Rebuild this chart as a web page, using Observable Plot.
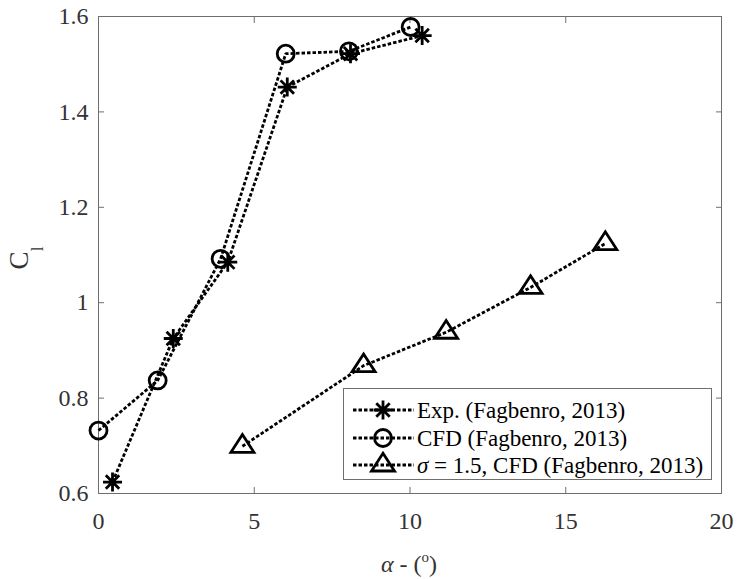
<!DOCTYPE html>
<html><head><meta charset="utf-8">
<script src="https://cdn.jsdelivr.net/npm/d3@7"></script>
<script src="https://cdn.jsdelivr.net/npm/@observablehq/plot@0.6"></script>
<style>body{margin:0;background:#fff}#chart{width:737px;height:579px}</style>
</head><body><div id="chart"></div>
<script>
// ---- data ----
const expAlpha = [0.45, 2.4, 4.15, 6.06, 8.09, 10.39];
const expCl    = [0.624, 0.925, 1.085, 1.452, 1.522, 1.560];
const cfdAlpha = [0, 1.9, 3.92, 6.01, 8.04, 10.02];
const cfdCl    = [0.732, 0.837, 1.092, 1.522, 1.527, 1.578];
const sigAlpha = [4.62, 8.51, 11.16, 13.87, 16.27];
const sigCl    = [0.699, 0.868, 0.938, 1.032, 1.124];
const xTicks = [0, 5, 10, 15, 20];
const yTicks = [0.6, 0.8, 1, 1.2, 1.4, 1.6];
const yTickLabels = ["0.6", "0.8", "1", "1.2", "1.4", "1.6"];
const seriesNames = ["Exp. (Fagbenro, 2013)", "CFD (Fagbenro, 2013)", "σ = 1.5, CFD (Fagbenro, 2013)"];

const exp = expAlpha.map((a, i) => ({alpha: a, cl: expCl[i]}));
const cfd = cfdAlpha.map((a, i) => ({alpha: a, cl: cfdCl[i]}));
const sig = sigAlpha.map((a, i) => ({alpha: a, cl: sigCl[i]}));

// ---- custom MATLAB-like marker symbols ----
const asterisk = {draw(ctx, size) {
  const r = Math.sqrt(size / Math.PI);
  for (let k = 0; k < 4; k++) {
    const a = k * Math.PI / 4, c = Math.cos(a) * r, s = Math.sin(a) * r;
    ctx.moveTo(c, s); ctx.lineTo(-c, -s);
  }
}};
const triangle = {draw(ctx, size) {
  const r = Math.sqrt(size / Math.PI);
  ctx.moveTo(0, -1.17 * r);
  ctx.lineTo(1.15 * r, 0.6 * r);
  ctx.lineTo(-1.15 * r, 0.6 * r);
  ctx.closePath();
}};
const circle = d3.symbolCircle;
const symbols = [asterisk, circle, triangle];
const radii = [9.5, 8.5, 10];

const font = "Liberation Serif, Times New Roman, Times, DejaVu Serif, serif";
const lineStyle = {stroke: "#000", strokeWidth: 2.8, strokeDasharray: "3.5,2", strokeLinecap: "butt", strokeLinejoin: "miter"};
const dotStyle = {stroke: "#000", strokeWidth: 2.8, fill: "none"};

const chart = Plot.plot({
  width: 737, height: 579,
  marginLeft: 98, marginRight: 16, marginTop: 16, marginBottom: 86,
  style: {fontFamily: font, fontSize: "24px", background: "#fff", color: "#333", overflow: "visible"},
  x: {domain: [0, 20]},
  y: {domain: [0.6, 1.6]},
  marks: [
    Plot.frame({stroke: "#6e6e6e"}),
    // inward ticks on all four sides
    Plot.axisX(xTicks, {anchor: "bottom", tickSize: -6, tickFormat: () => "", stroke: "#6e6e6e", label: null}),
    Plot.axisX(xTicks, {anchor: "top", tickSize: -6, tickFormat: () => "", stroke: "#6e6e6e", label: null}),
    Plot.axisY(yTicks, {anchor: "left", tickSize: -6, tickFormat: () => "", stroke: "#6e6e6e", label: null}),
    Plot.axisY(yTicks, {anchor: "right", tickSize: -6, tickFormat: () => "", stroke: "#6e6e6e", label: null}),
    // tick labels
    Plot.axisX(xTicks, {anchor: "bottom", tickSize: 0, tickPadding: 18, fill: "#333", label: null, tickFormat: d => String(d)}),
    Plot.axisY(yTicks, {anchor: "left", tickSize: 0, tickPadding: 10, fill: "#333", label: null,
      tickFormat: d => yTickLabels[yTicks.indexOf(d)]}),
    // series
    Plot.line(exp, {x: "alpha", y: "cl", ...lineStyle}),
    Plot.line(cfd, {x: "alpha", y: "cl", ...lineStyle}),
    Plot.line(sig, {x: "alpha", y: "cl", ...lineStyle}),
    Plot.dot(exp, {x: "alpha", y: "cl", symbol: asterisk, r: radii[0], ...dotStyle}),
    Plot.dot(cfd, {x: "alpha", y: "cl", symbol: circle, r: radii[1], ...dotStyle}),
    Plot.dot(sig, {x: "alpha", y: "cl", symbol: triangle, r: radii[2], ...dotStyle})
  ]
});
document.getElementById("chart").appendChild(chart);

// ---- axis titles and legend ----
const svg = d3.select(chart);

// x label: α - (°)
const xl = svg.append("text")
  .attr("x", 409).attr("y", 572)
  .attr("text-anchor", "middle")
  .attr("fill", "#333")
  .style("font-family", font).style("font-size", "24px");
xl.append("tspan").attr("font-style", "italic").text("α");
xl.append("tspan").text(" - (");
xl.append("tspan").attr("font-size", "15px").attr("dy", -10).text("o");
xl.append("tspan").attr("dy", 10).text(")");

// y label: C_l
const yl = svg.append("text")
  .attr("transform", "translate(28,258) rotate(-90)")
  .attr("text-anchor", "middle")
  .attr("fill", "#333")
  .style("font-family", font).style("font-size", "27px");
yl.append("tspan").text("C");
yl.append("tspan").attr("font-size", "17px").attr("dy", 15).text("l");

// legend
const lg = svg.append("g");
lg.append("rect")
  .attr("x", 343.5).attr("y", 388.5).attr("width", 368).attr("height", 91)
  .attr("fill", "#fff").attr("stroke", "#6e6e6e").attr("stroke-width", 1);
const rowY = [410, 438, 465];
seriesNames.forEach((name, i) => {
  const y = rowY[i];
  lg.append("line")
    .attr("x1", 353).attr("x2", 414).attr("y1", y).attr("y2", y)
    .attr("stroke", "#000").attr("stroke-width", 2.8).attr("stroke-dasharray", "3.5,2");
  lg.append("path")
    .attr("transform", `translate(383,${y})`)
    .attr("d", d3.symbol(symbols[i], Math.PI * radii[i] * radii[i])())
    .attr("fill", "none").attr("stroke", "#000").attr("stroke-width", 2.8);
  const t = lg.append("text")
    .attr("x", 417).attr("y", y + 8)
    .attr("text-anchor", "start")
    .attr("fill", "#000")
    .style("font-family", font).style("font-size", "23px");
  if (name.startsWith("σ")) {
    t.append("tspan").attr("font-style", "italic").text("σ");
    t.append("tspan").text(name.slice(1));
  } else {
    t.text(name);
  }
});
</script>
</body></html>
